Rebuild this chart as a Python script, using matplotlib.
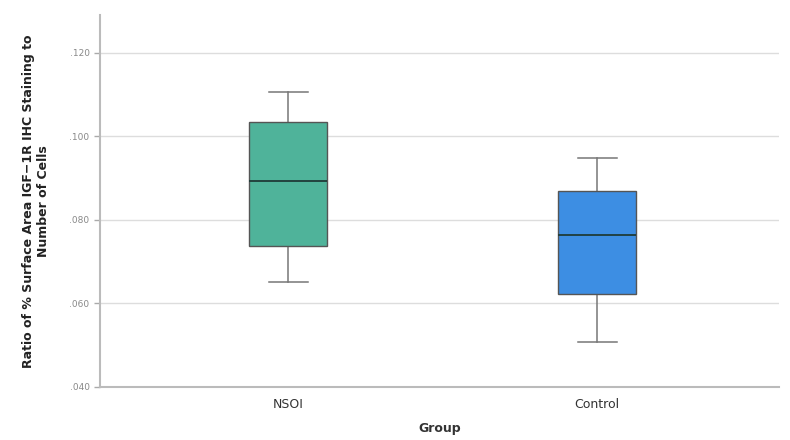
import matplotlib.pyplot as plt
from matplotlib.ticker import FuncFormatter

# datos
groups = ["NSOI", "Control"]
whis_low = [0.0651, 0.0507]
q1 = [0.0737, 0.0622]
medians = [0.0894, 0.0765]
q3 = [0.1035, 0.0868]
whis_high = [0.1107, 0.0947]
colors = ["#4fb39a", "#3d8ee3"]

stats = []
for i, g in enumerate(groups):
    stats.append({"label": g, "whislo": whis_low[i], "q1": q1[i], "med": medians[i],
                  "q3": q3[i], "whishi": whis_high[i], "fliers": []})

fig = plt.figure(figsize=(7.9, 4.4), dpi=100)
ax = fig.add_axes([0.1266, 0.1205, 0.86, 0.845])

bp = ax.bxp(stats, positions=[0, 1], widths=0.252, patch_artist=True,
            showfliers=False, capwidths=0.126,
            boxprops=dict(edgecolor="#555555", linewidth=1.0),
            medianprops=dict(color="#1f3b38", linewidth=1.3, zorder=4),
            whiskerprops=dict(color="#777777", linewidth=1.1),
            capprops=dict(color="#777777", linewidth=1.1))
for patch, c in zip(bp["boxes"], colors):
    patch.set_facecolor(c)
    patch.set_zorder(3)

ax.set_xlim(-0.61, 1.59)
ax.set_ylim(0.040, 0.129)
ax.set_yticks([0.040, 0.060, 0.080, 0.100, 0.120])
ax.yaxis.set_major_formatter(FuncFormatter(lambda v, p: ("%.3f" % v)[1:]))
ax.grid(axis="y", color="#dddddd", linewidth=1.0, zorder=0)
ax.set_axisbelow(True)

for s in ["top", "right"]:
    ax.spines[s].set_visible(False)
for s in ["left", "bottom"]:
    ax.spines[s].set_color("#bbbbbb")
    ax.spines[s].set_linewidth(1.5)

ax.tick_params(axis="y", labelsize=6.5, colors="#aaaaaa", length=4, width=1, labelcolor="#888888")
ax.tick_params(axis="x", labelsize=9, length=0, pad=8, labelcolor="#333333")

ax.set_xlabel("Group", fontsize=9, fontweight="bold", color="#333333", labelpad=8)
ax.set_ylabel("Ratio of % Surface Area IGF\u22121R IHC Staining to\nNumber of Cells",
              fontsize=9, fontweight="bold", color="#222222", labelpad=14)

plt.savefig("out.png", dpi=100)
